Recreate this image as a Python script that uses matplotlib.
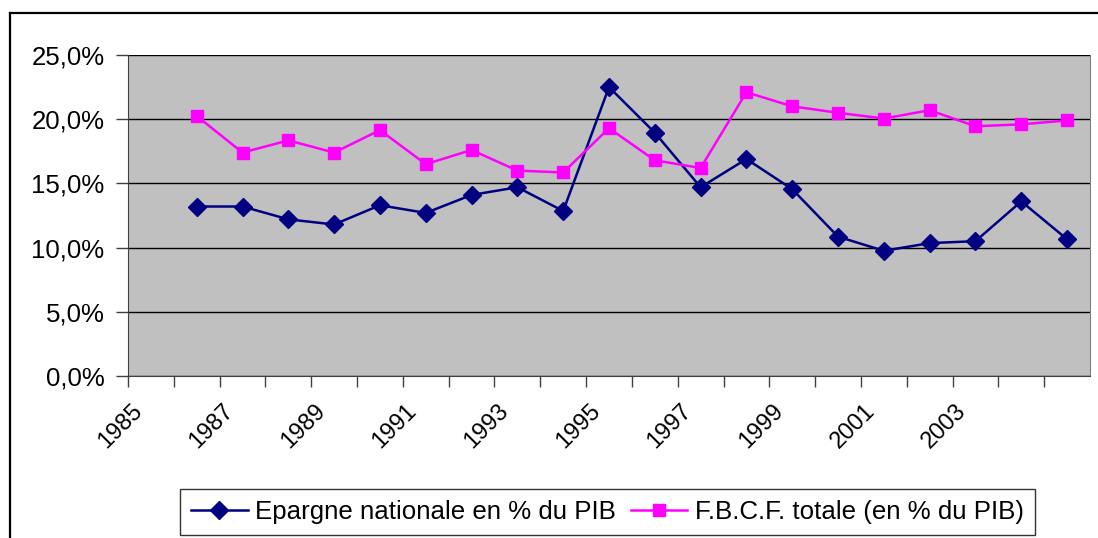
import matplotlib.pyplot as plt
from matplotlib.lines import Line2D
from matplotlib.transforms import ScaledTranslation

plt.rcParams['font.family'] = ['Liberation Sans', 'DejaVu Sans']

years = list(range(1986, 2006))
epargne = [13.2, 13.2, 12.2, 11.8, 13.3, 12.7, 14.1, 14.7, 12.85, 22.5,
           18.95, 14.7, 16.9, 14.55, 10.85, 9.75, 10.35, 10.5, 13.6, 10.65]
fbcf = [20.25, 17.4, 18.35, 17.4, 19.15, 16.5, 17.6, 16.0, 15.85, 19.3,
        16.8, 16.2, 22.1, 21.0, 20.5, 20.05, 20.7, 19.45, 19.6, 19.9]
label_years = list(range(1985, 2005, 2))
name1 = 'Epargne nationale en % du PIB'
name2 = 'F.B.C.F. totale (en % du PIB)'

fs = 18.6

fig = plt.figure(figsize=(10.98, 5.38), dpi=100)
ax = fig.add_axes([128 / 1098, 1 - 376 / 538, 962 / 1098, 321 / 538])
ax.set_facecolor('#C0C0C0')

ax.plot(years, epargne, color='#000080', lw=1.8, marker='D', ms=9,
        label=name1, zorder=3)
ax.plot(years, fbcf, color='#FF00FF', lw=1.8, marker='s', ms=8.5,
        label=name2, zorder=3)

ax.set_xlim(1984.5, 2005.5)
ax.set_ylim(0, 25)
ax.set_yticks([0, 5, 10, 15, 20, 25])
ax.set_yticklabels(['0,0%', '5,0%', '10,0%', '15,0%', '20,0%', '25,0%'])
ax.yaxis.grid(True, color='black', lw=1)
ax.set_axisbelow(True)

# ticks between categories, labels every 2 years
ax.set_xticks([y + 0.5 for y in range(1984, 2005)], minor=True)
ax.set_xticks(label_years)
ax.set_xticklabels([str(y) for y in label_years], rotation=45, ha='right',
                   va='baseline', rotation_mode='anchor')
ax.tick_params(axis='x', which='major', length=0, pad=26, labelsize=17)
ax.tick_params(axis='x', which='minor', length=8, width=1, color='#404040')
ax.tick_params(axis='y', length=9, width=1, color='#404040', labelsize=fs, pad=8)
# nudge the year labels left (after tick_params, which resets transforms)
shift = ScaledTranslation(-8 / 100, 0, fig.dpi_scale_trans)
for lab in ax.get_xticklabels():
    lab.set_transform(lab.get_transform() + shift)

ax.spines['top'].set_visible(False)
ax.spines['right'].set_color('#808080')
ax.spines['left'].set_color('#404040')
ax.spines['bottom'].set_color('#404040')

# outer chart frame (only top and left visible)
fig.add_artist(Line2D([10 / 1098, 10 / 1098], [0, 1 - 13 / 538], color='black', lw=1.6))
fig.add_artist(Line2D([10 / 1098, 1], [1 - 13 / 538, 1 - 13 / 538], color='black', lw=1.6))

leg = fig.legend(loc='lower left', bbox_to_anchor=(180 / 1098, 3 / 538),
                 ncol=2, fontsize=fs, frameon=True, fancybox=False,
                 edgecolor='black', handlelength=2.2, handletextpad=0.3,
                 columnspacing=0.55, borderpad=0.42, borderaxespad=0)
leg.get_frame().set_linewidth(1)

fig.savefig('out.png', dpi=100)
